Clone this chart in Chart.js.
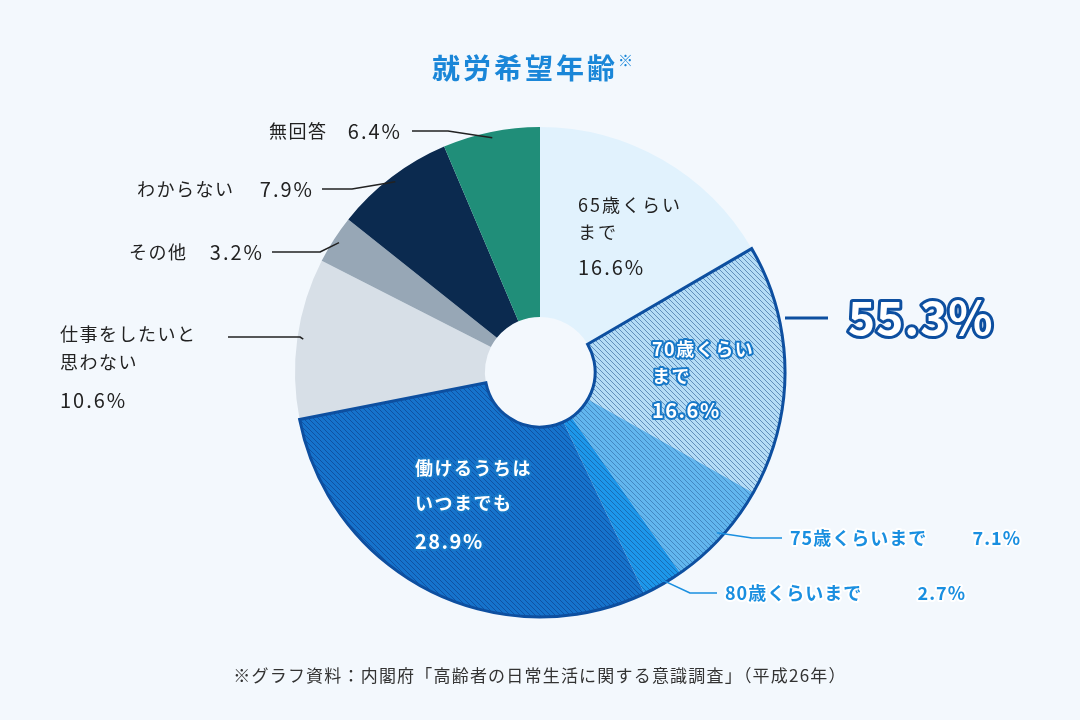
<!DOCTYPE html>
<html>
<head>
<meta charset="utf-8">
<script src="https://cdn.jsdelivr.net/npm/chart.js@4/dist/chart.umd.min.js"></script>
<style>
  html, body { margin: 0; padding: 0; background: #f3f8fd; }
  #wrap { width: 1080px; height: 720px; position: relative; }
</style>
</head>
<body>
<div id="wrap"><canvas id="ageChart" width="1080" height="720"></canvas></div>
<script>
// ========== データ ==========
const categories = ['65歳くらいまで', '70歳くらいまで', '75歳くらいまで', '80歳くらいまで',
  '働けるうちはいつまでも', '仕事をしたいと思わない', 'その他', 'わからない', '無回答'];
const shares = [16.6, 16.6, 7.1, 2.7, 28.9, 10.6, 3.2, 7.9, 6.4];
const groupTotal = '55.3%';

const FONT = '"Noto Sans CJK JP", "Noto Sans", sans-serif';

// 斜線パターン
function stripe(base, line) {
    const c = document.createElement('canvas');
    c.width = 5; c.height = 5;
    const g = c.getContext('2d');
    g.fillStyle = base;
    g.fillRect(0, 0, 5, 5);
    g.strokeStyle = line;
    g.lineWidth = 1;
    g.beginPath();
    g.moveTo(0, 0); g.lineTo(5, 5);
    g.moveTo(-1, 4); g.lineTo(1, 6);
    g.moveTo(4, -1); g.lineTo(6, 1);
    g.stroke();
    return document.getElementById('ageChart').getContext('2d').createPattern(c, 'repeat');
}

const colors = [
    '#e1f2fd',
    stripe('#b4dcf6', 'rgba(30,80,140,0.55)'),
    stripe('#62b6ee', 'rgba(30,80,140,0.45)'),
    stripe('#1d97ea', 'rgba(20,60,120,0.45)'),
    stripe('#1673cc', 'rgba(10,50,120,0.5)'),
    '#d7dfe7',
    '#97a7b6',
    '#0b2a4f',
    '#208e79'
];

function txt(ctx, s, x, y, opt) {
    ctx.font = opt.font;
    ctx.letterSpacing = (opt.ls || 0) + 'px';
    ctx.textAlign = opt.align || 'left';
    ctx.textBaseline = 'middle';
    if (opt.align === 'right') x += (opt.ls || 0);
    if (opt.stroke) {
        ctx.lineJoin = 'round';
        ctx.lineWidth = opt.strokeWidth || 4;
        ctx.strokeStyle = opt.stroke;
        ctx.strokeText(s, x, y);
    }
    ctx.fillStyle = opt.color;
    ctx.fillText(s, x, y);
    const w = ctx.measureText(s).width;
    ctx.letterSpacing = '0px';
    return w;
}

function leader(ctx, arc, pts, color, width) {
    const mid = (arc.startAngle + arc.endAngle) / 2;
    const r = arc.outerRadius - 6;
    ctx.beginPath();
    ctx.moveTo(arc.x + Math.cos(mid) * r, arc.y + Math.sin(mid) * r);
    pts.forEach(p => ctx.lineTo(p[0], p[1]));
    ctx.strokeStyle = color;
    ctx.lineWidth = width || 1.5;
    ctx.stroke();
}

const labelPlugin = {
    id: 'labels',
    afterDraw(chart) {
        const ctx = chart.ctx;
        const arcs = chart.getDatasetMeta(0).data;
        ctx.save();

        // 55.3% グループ枠
        const a = arcs[1], b = arcs[4];
        ctx.beginPath();
        ctx.arc(a.x, a.y, a.outerRadius, a.startAngle, b.endAngle);
        ctx.arc(a.x, a.y, a.innerRadius, b.endAngle, a.startAngle, true);
        ctx.closePath();
        ctx.strokeStyle = '#0d4fa0';
        ctx.lineWidth = 3;
        ctx.stroke();

        // タイトル
        const tw = txt(ctx, '就労希望年齢', 432, 68, { font: 'bold 28px ' + FONT, color: '#1a86d8', ls: 3 });
        txt(ctx, '※', 432 + tw, 60, { font: 'bold 15px ' + FONT, color: '#1a86d8' });

        // 円内ラベル
        const black = { font: '18px ' + FONT, color: '#222', ls: 2 };
        const blackPct = { font: '20px ' + FONT, color: '#222', ls: 2 };
        txt(ctx, '65歳くらい', 578, 205, black);
        txt(ctx, 'まで', 578, 232, black);
        txt(ctx, shares[0].toFixed(1) + '%', 578, 267, blackPct);

        const white = { font: 'bold 18px ' + FONT, color: '#fff', stroke: '#1778c8', strokeWidth: 4, ls: 1.5 };
        const whitePct = { ...white, font: 'bold 20px ' + FONT };
        txt(ctx, '70歳くらい', 652, 349, white);
        txt(ctx, 'まで', 652, 376, white);
        txt(ctx, shares[1].toFixed(1) + '%', 652, 410, whitePct);
        txt(ctx, '働けるうちは', 415, 468, white);
        txt(ctx, 'いつまでも', 415, 503, white);
        txt(ctx, shares[4].toFixed(1) + '%', 415, 541, whitePct);

        // 外側ラベル（青）
        const blue = { font: 'bold 18px ' + FONT, color: '#1a8fe0', stroke: '#fff', strokeWidth: 4, ls: 1 };
        leader(ctx, arcs[2], [[752, 538], [782, 538]], '#1a8fe0');
        txt(ctx, '75歳くらいまで', 790, 538, blue);
        txt(ctx, shares[2].toFixed(1) + '%', 1020, 538, { ...blue, align: 'right' });
        leader(ctx, arcs[3], [[690, 593], [717, 593]], '#1a8fe0');
        txt(ctx, '80歳くらいまで', 725, 593, blue);
        txt(ctx, shares[3].toFixed(1) + '%', 965, 593, { ...blue, align: 'right' });

        // 55.3%
        ctx.beginPath();
        ctx.moveTo(785, 318); ctx.lineTo(828, 318);
        ctx.strokeStyle = '#0d4fa0'; ctx.lineWidth = 3; ctx.stroke();
        txt(ctx, groupTotal, 848, 318, { font: 'bold 46px ' + FONT, color: '#fff', stroke: '#0d4fa0', strokeWidth: 6, ls: 1 });

        // 外側ラベル（黒）
        const dark = { font: '18px ' + FONT, color: '#222', align: 'right', ls: 1.5 };
        const pct = { font: '20px ' + FONT, color: '#222', align: 'right', ls: 2 };
        leader(ctx, arcs[8], [[448, 131], [412, 131]], '#222');
        txt(ctx, '無回答', 326, 131, dark);
        txt(ctx, shares[8].toFixed(1) + '%', 400, 131, pct);
        leader(ctx, arcs[7], [[352, 189], [322, 189]], '#222');
        txt(ctx, 'わからない', 233, 189, dark);
        txt(ctx, shares[7].toFixed(1) + '%', 312, 189, pct);
        leader(ctx, arcs[6], [[320, 252], [272, 252]], '#222');
        txt(ctx, 'その他', 186, 252, dark);
        txt(ctx, shares[6].toFixed(1) + '%', 262, 252, pct);
        leader(ctx, arcs[5], [[300, 337], [228, 337]], '#222');
        txt(ctx, '仕事をしたいと', 60, 334, { ...dark, align: 'left' });
        txt(ctx, '思わない', 60, 362, { ...dark, align: 'left' });
        txt(ctx, shares[5].toFixed(1) + '%', 60, 400, { ...pct, align: 'left' });

        // 出典
        txt(ctx, '※グラフ資料：内閣府「高齢者の日常生活に関する意識調査」（平成26年）', 540, 676,
            { font: '17px ' + FONT, color: '#333', align: 'center', ls: 1.2 });
        ctx.restore();
    }
};

new Chart(document.getElementById('ageChart'), {
    type: 'doughnut',
    data: {
        labels: categories,
        datasets: [{
            data: shares,
            backgroundColor: colors,
            borderWidth: 0
        }]
    },
    options: {
        responsive: false,
        animation: false,
        cutout: '22.5%',
        layout: { padding: { left: 295, right: 295, top: 127, bottom: 103 } },
        plugins: { legend: { display: false }, tooltip: { enabled: false } }
    },
    plugins: [labelPlugin]
});
</script>
</body>
</html>
